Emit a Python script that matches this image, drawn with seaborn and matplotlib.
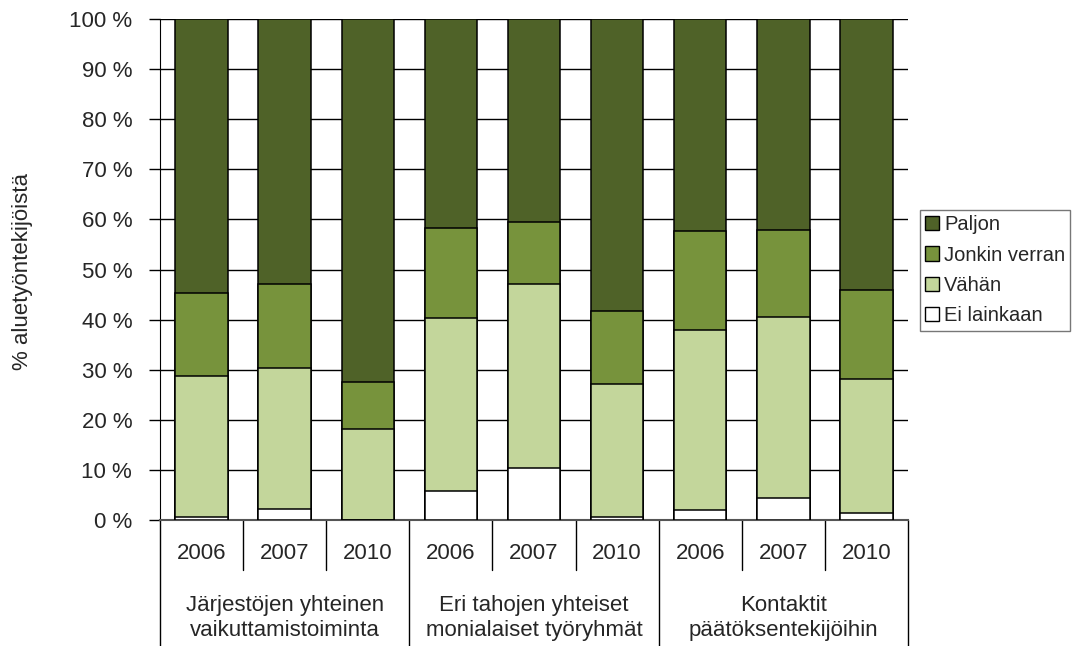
import pandas as pd
import seaborn as sns
import matplotlib.pyplot as plt
import matplotlib.transforms as mtransforms
from matplotlib.patches import Patch

groups = ["Järjestöjen yhteinen\nvaikuttamistoiminta",
          "Eri tahojen yhteiset\nmonialaiset työryhmät",
          "Kontaktit\npäätöksentekijöihin"]
years = ["2006", "2007", "2010"]

# percentage shares per bar (group x year), bottom to top
ei_lainkaan = [0.5, 2.2, 0.0, 5.8, 10.4, 0.6, 2.0, 4.4, 1.4]
vahan = [28.2, 28.1, 18.2, 34.5, 36.7, 26.5, 35.9, 36.1, 26.7]
jonkin_verran = [16.6, 16.8, 9.3, 18.0, 12.4, 14.6, 19.8, 17.4, 17.8]
paljon = [54.7, 52.9, 72.5, 41.7, 40.5, 58.3, 42.3, 42.1, 54.1]

series = ["Ei lainkaan", "Vähän", "Jonkin verran", "Paljon"]
palette = {"Paljon": "#4F6228", "Jonkin verran": "#77933C",
           "Vähän": "#C3D69B", "Ei lainkaan": "#FFFFFF"}

bar_id = [f"{g}|{y}" for g in range(len(groups)) for y in years]
df = pd.DataFrame({"bar": bar_id, "Ei lainkaan": ei_lainkaan, "Vähän": vahan,
                   "Jonkin verran": jonkin_verran, "Paljon": paljon})
cum = df[series].cumsum(axis=1)

sns.set_style("white")
plt.rcParams["font.family"] = ["Liberation Sans", "DejaVu Sans"]

fig = plt.figure(figsize=(10.72, 6.46), dpi=100)
ax = fig.add_axes([160 / 1072, 1 - 520 / 646, 748 / 1072, 501 / 646])

# draw tallest stacks first so lower segments sit on top
for s in reversed(series):
    sns.barplot(x=df["bar"], y=cum[s], order=bar_id, color=palette[s],
                width=0.63, edgecolor="black", linewidth=1.1, ax=ax,
                saturation=1, zorder=3)

ax.set_ylim(0, 100)
ax.set_xlim(-0.5, len(bar_id) - 0.5)
ax.set_yticks(range(0, 101, 10))
ax.set_yticklabels([f"{v} %" for v in range(0, 101, 10)], fontsize=16)
ax.yaxis.grid(True, color="black", linewidth=1.0, zorder=0)
ax.set_axisbelow(True)
ax.tick_params(axis="y", length=8, width=1, color="black", pad=12, left=True)
ax.set_xticks([])
ax.set_xlabel("")
ax.set_ylabel("")
for side in ["top", "right"]:
    ax.spines[side].set_visible(False)
ax.spines["left"].set_color("black")
ax.spines["bottom"].set_color("#555555")
ax.spines["bottom"].set_linewidth(1.5)

fig.text(23 / 1072, 1 - 271 / 646, "% aluetyöntekijöistä", rotation=90,
         fontsize=16, ha="center", va="center")

# hierarchical category axis
trans = mtransforms.blended_transform_factory(ax.transData, ax.transAxes)
n = len(bar_id)
for i in range(n + 1):
    edge = i - 0.5
    bottom = -0.26 if i % 3 == 0 else -0.1
    ax.plot([edge, edge], [0, bottom], transform=trans, color="black",
            linewidth=1.0, clip_on=False)
for i, b in enumerate(bar_id):
    ax.text(i, -0.066, b.split("|")[1], transform=trans, ha="center",
            va="center", fontsize=16)
for g, label in enumerate(groups):
    ax.text(g * 3 + 1, -0.195, label, transform=trans, ha="center",
            va="center", fontsize=16, linespacing=1.25)

handles = [Patch(facecolor=palette[s], edgecolor="black", linewidth=1.0, label=s)
           for s in reversed(series)]
fig.legend(handles=handles, loc="upper left",
           bbox_to_anchor=(920 / 1072, 1 - 210 / 646), fontsize=14.5,
           frameon=True, fancybox=False, edgecolor="#555555",
           handlelength=0.7, handleheight=0.7, handletextpad=0.25,
           labelspacing=0.57, borderpad=0.25, borderaxespad=0)

fig.savefig("out.png", dpi=100)
